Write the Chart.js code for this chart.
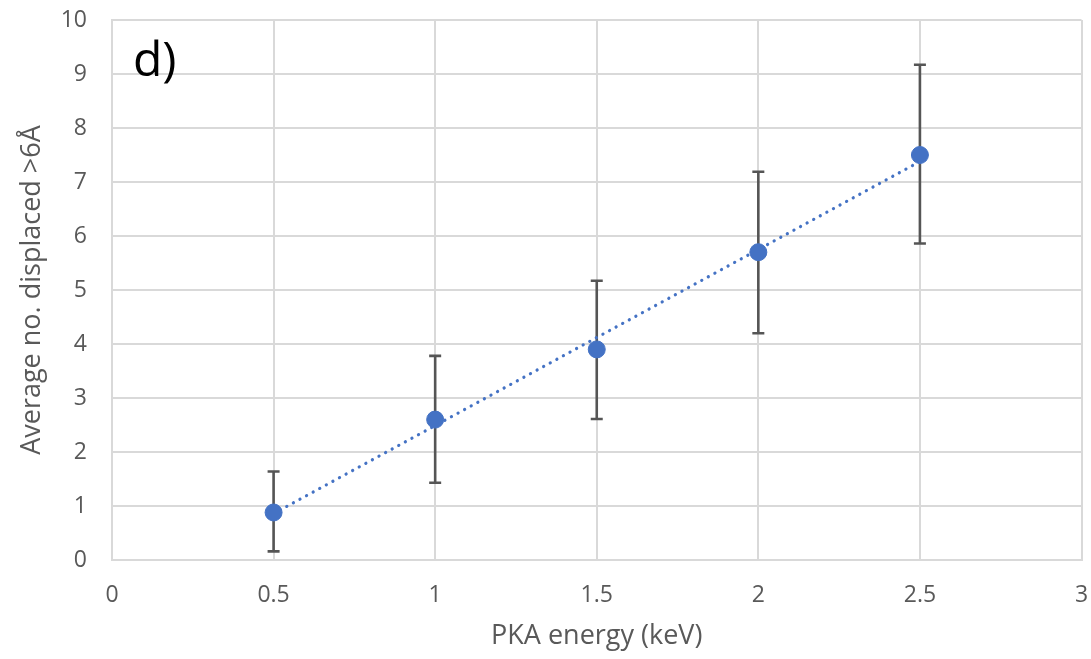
<!DOCTYPE html>
<html>
<head>
    <title>PKA energy vs displaced atoms</title>
    <script src="https://cdn.jsdelivr.net/npm/chart.js"></script>
    <style>
        html, body { margin: 0; padding: 0; background: #fff; }
        #wrap { width: 1091px; height: 659px; }
    </style>
</head>
<body>
    <div id="wrap"><canvas id="myChart"></canvas></div>
    <script>
        // values
        const energies = [0.5, 1, 1.5, 2, 2.5];
        const avgDisplaced = [0.88, 2.6, 3.9, 5.7, 7.5];
        const errLow = [0.16, 1.43, 2.61, 4.2, 5.86];
        const errHigh = [1.64, 3.78, 5.17, 7.19, 9.17];
        // dotted linear trendline end points
        const trendX = [0.5, 2.5];
        const trendY = [0.86, 7.38];

        const textGrey = '#595959';
        const gridGrey = '#d9d9d9';
        const blue = '#4472c4';
        const fontFam = '"Open Sans", Lato, sans-serif';

        // draws the vertical error bars with caps
        const errorBars = {
            id: 'errorBars',
            beforeDatasetsDraw(chart) {
                const ctx = chart.ctx;
                const xs = chart.scales.x, ys = chart.scales.y;
                ctx.save();
                ctx.strokeStyle = '#555555';
                ctx.lineWidth = 2.6;
                energies.forEach((e, i) => {
                    const x = xs.getPixelForValue(e);
                    const yTop = ys.getPixelForValue(errHigh[i]);
                    const yBot = ys.getPixelForValue(errLow[i]);
                    ctx.beginPath();
                    ctx.moveTo(x, yTop); ctx.lineTo(x, yBot);
                    ctx.moveTo(x - 6, yTop); ctx.lineTo(x + 6, yTop);
                    ctx.moveTo(x - 6, yBot); ctx.lineTo(x + 6, yBot);
                    ctx.stroke();
                });
                ctx.restore();
            }
        };

        // panel letter in the top left of the plot
        const panelLabel = {
            id: 'panelLabel',
            afterDraw(chart) {
                const ctx = chart.ctx;
                ctx.save();
                ctx.fillStyle = '#000';
                ctx.font = '48px ' + fontFam;
                ctx.textBaseline = 'alphabetic';
                ctx.fillText('d)', chart.chartArea.left + 21, chart.chartArea.top + 56);
                ctx.restore();
            }
        };

        const ctx = document.getElementById('myChart').getContext('2d');
        const myChart = new Chart(ctx, {
            type: 'scatter',
            data: {
                datasets: [{
                    label: 'trend',
                    type: 'line',
                    data: trendX.map((x, i) => ({ x: x, y: trendY[i] })),
                    borderColor: blue,
                    borderWidth: 3.2,
                    borderDash: [0.1, 7.4],
                    borderCapStyle: 'round',
                    pointRadius: 0,
                    fill: false,
                    order: 2
                }, {
                    label: 'Average no. displaced',
                    data: energies.map((x, i) => ({ x: x, y: avgDisplaced[i] })),
                    backgroundColor: blue,
                    borderColor: blue,
                    pointRadius: 8.5,
                    order: 1
                }]
            },
            options: {
                responsive: true,
                maintainAspectRatio: false,
                animation: false,
                layout: { padding: { top: 20, right: 9, left: 0, bottom: 0 } },
                plugins: {
                    legend: { display: false },
                    tooltip: { enabled: false }
                },
                scales: {
                    x: {
                        type: 'linear',
                        min: 0, max: 3,
                        ticks: {
                            stepSize: 0.5,
                            color: textGrey,
                            font: { family: fontFam, size: 23 },
                            padding: 22,
                            callback: v => String(v)
                        },
                        grid: { color: gridGrey, lineWidth: 2, drawTicks: false },
                        border: { color: gridGrey, width: 2 },
                        title: {
                            display: true,
                            text: 'PKA energy (keV)',
                            color: textGrey,
                            font: { family: fontFam, size: 27 },
                            padding: { top: 0, bottom: 6 }
                        },
                        afterFit(scale) {
                            scale.height = 99;
                            scale.paddingLeft = 0;
                            scale.paddingRight = 0;
                        }
                    },
                    y: {
                        min: 0, max: 10,
                        ticks: {
                            stepSize: 1,
                            color: textGrey,
                            font: { family: fontFam, size: 23 },
                            padding: 25
                        },
                        grid: { color: gridGrey, lineWidth: 2, drawTicks: false },
                        border: { color: gridGrey, width: 2 },
                        title: {
                            display: true,
                            text: 'Average no. displaced >6Å',
                            color: textGrey,
                            font: { family: fontFam, size: 27 },
                            padding: { top: 16, bottom: 0 }
                        },
                        afterFit(scale) {
                            scale.width = 112;
                            scale.paddingTop = 0;
                            scale.paddingBottom = 0;
                        }
                    }
                }
            },
            plugins: [errorBars, panelLabel]
        });
    </script>
</body>
</html>
